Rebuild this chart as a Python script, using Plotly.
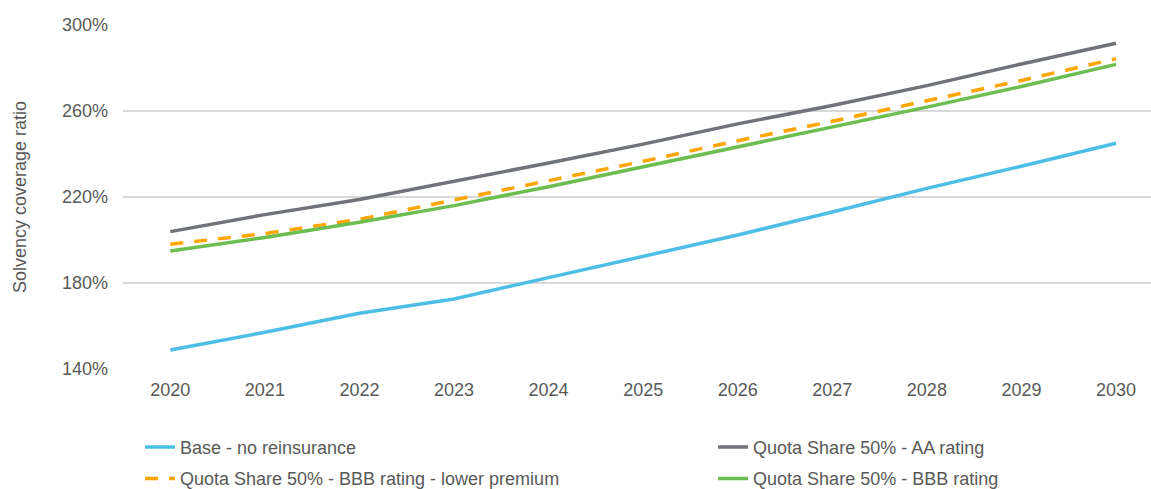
import plotly.graph_objects as go

years = ["2020", "2021", "2022", "2023", "2024", "2025", "2026", "2027", "2028", "2029", "2030"]
base_no_reins = [148.8, 157.1, 165.9, 172.6, 182.5, 192.2, 202.3, 213.0, 224.0, 234.3, 245.0]
qs_aa = [203.9, 211.8, 218.8, 227.1, 235.8, 244.6, 254.0, 262.6, 271.8, 281.9, 291.5]
qs_bbb_low = [198.0, 203.0, 209.6, 218.6, 227.6, 236.6, 246.2, 255.2, 264.8, 274.2, 284.3]
qs_bbb = [194.9, 201.2, 208.3, 216.0, 224.8, 234.0, 243.6, 252.4, 261.8, 271.4, 281.7]

FONT = "Liberation Sans, Arial, sans-serif"
TXT = "#595959"

fig = go.Figure()
fig.add_trace(go.Scatter(x=years, y=base_no_reins, mode="lines", name="Base - no reinsurance",
                         line=dict(color="#4DBFE6", width=3.5), legend="legend", legendgroup="a"))
fig.add_trace(go.Scatter(x=years, y=qs_bbb_low, mode="lines", name="Quota Share 50% - BBB rating - lower premium",
                         line=dict(color="#FFA500", width=3.5, dash="13px,11px"), legend="legend", legendgroup="b"))
fig.add_trace(go.Scatter(x=years, y=qs_aa, mode="lines", name="Quota Share 50% - AA rating",
                         line=dict(color="#707478", width=3.5), legend="legend2", legendgroup="c"))
fig.add_trace(go.Scatter(x=years, y=qs_bbb, mode="lines", name="Quota Share 50% - BBB rating",
                         line=dict(color="#6CBE50", width=3.5), legend="legend2", legendgroup="d"))

legend_common = dict(orientation="v", xanchor="left", yanchor="top", y=-0.174,
                     font=dict(family=FONT, size=18, color=TXT), tracegroupgap=5,
                     traceorder="grouped",
                     bgcolor="rgba(0,0,0,0)", borderwidth=0)

fig.update_layout(
    width=1151, height=489,
    margin=dict(l=123, r=0, t=25, b=120, autoexpand=False),
    paper_bgcolor="white", plot_bgcolor="white",
    font=dict(family=FONT, size=18, color=TXT),
    showlegend=True,
    legend=dict(x=0.0165, **legend_common),
    legend2=dict(x=0.574, **legend_common),
    xaxis=dict(type="category", range=[-0.5, 10.37], showgrid=False, zeroline=False,
               showline=False, ticks="", ticklabelstandoff=8, automargin=False,
               tickfont=dict(family=FONT, size=18, color=TXT)),
    yaxis=dict(range=[140, 300], tickvals=[140, 180, 220, 260, 300],
               ticktext=["140%", "180%", "220%", "260%", "300%"],
               showgrid=True, gridcolor="#D9D9D9", gridwidth=1.5, zeroline=False,
               showline=False, ticks="", ticklabelstandoff=14, automargin=False,
               tickfont=dict(family=FONT, size=18, color=TXT),
               title=dict(text="Solvency coverage ratio", standoff=30,
                          font=dict(family=FONT, size=18, color=TXT))),
)

fig.write_html("out.html")
